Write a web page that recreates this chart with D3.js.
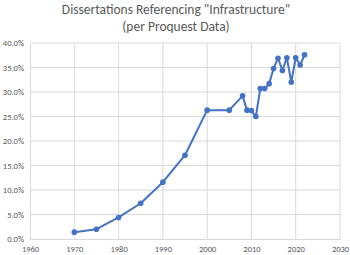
<!DOCTYPE html>
<html>
<head>
<meta charset="utf-8">
<script src="https://cdn.jsdelivr.net/npm/d3@7"></script>
<style>
  body { margin: 0; background: #fff; }
  text { font-family: Calibri, Carlito, "Liberation Sans", Arial, sans-serif; fill: #595959; }
</style>
</head>
<body>
<div id="chart"></div>
<script>
var years = [1970, 1975, 1980, 1985, 1990, 1995, 2000, 2005, 2008, 2009, 2010, 2011, 2012, 2013, 2014, 2015, 2016, 2017, 2018, 2019, 2020, 2021, 2022];
var shares = [0.014, 0.020, 0.044, 0.073, 0.116, 0.171, 0.263, 0.263, 0.292, 0.263, 0.262, 0.250, 0.307, 0.307, 0.317, 0.348, 0.369, 0.344, 0.370, 0.320, 0.370, 0.355, 0.376];
var xTicks = [1960, 1970, 1980, 1990, 2000, 2010, 2020, 2030];
var yTicks = [0, 0.05, 0.10, 0.15, 0.20, 0.25, 0.30, 0.35, 0.40];
var titleLines = ['Dissertations Referencing "Infrastructure"', '(per Proquest Data)'];

var dataset = years.map(function(y, i) { return { year: y, share: shares[i] }; });

var w = 350;
var h = 255;

var xScale = d3.scaleLinear().domain([1960, 2030]).range([30, 340]);
var yScale = d3.scaleLinear().domain([0, 0.40]).range([239, 43]);

var svg = d3.select("#chart")
  .append("svg")
  .attr("width", w)
  .attr("height", h);

// title
svg.append("g").selectAll("text")
  .data(titleLines)
  .enter().append("text")
  .attr("x", 176)
  .attr("y", function(d, i) { return 14 + i * 17; })
  .attr("text-anchor", "middle")
  .attr("font-size", "13.5px")
  .text(function(d) { return d; });

// gridlines
svg.append("g").selectAll("line")
  .data(yTicks.slice(1))
  .enter().append("line")
  .attr("x1", xScale(1960)).attr("x2", xScale(2030))
  .attr("y1", function(d) { return yScale(d); })
  .attr("y2", function(d) { return yScale(d); })
  .attr("stroke", "#d9d9d9").attr("stroke-width", 1);

svg.append("g").selectAll("line")
  .data(xTicks.slice(1))
  .enter().append("line")
  .attr("x1", function(d) { return xScale(d); })
  .attr("x2", function(d) { return xScale(d); })
  .attr("y1", yScale(0)).attr("y2", yScale(0.40))
  .attr("stroke", "#d9d9d9").attr("stroke-width", 1);

// axes
var xAxis = d3.axisBottom(xScale).tickValues(xTicks).tickFormat(d3.format("d")).tickSize(0).tickPadding(7);
var yAxis = d3.axisLeft(yScale).tickValues(yTicks).tickFormat(d3.format(".1%")).tickSize(0).tickPadding(6);

var gx = svg.append("g")
  .attr("transform", "translate(0," + yScale(0) + ")")
  .call(xAxis);
gx.select(".domain").attr("stroke", "#d9d9d9");

var gy = svg.append("g")
  .attr("transform", "translate(" + xScale(1960) + ",0)")
  .call(yAxis);
gy.select(".domain").attr("stroke", "#d9d9d9");

svg.selectAll(".tick text")
  .attr("font-size", "8.5px")
  .attr("fill", "#595959")
  .style("font-family", "Calibri, Carlito, 'Liberation Sans', Arial, sans-serif");

// line
var line = d3.line()
  .x(function(d) { return xScale(d.year); })
  .y(function(d) { return yScale(d.share); });

svg.append("path")
  .datum(dataset)
  .attr("d", line)
  .attr("fill", "none")
  .attr("stroke", "#4472C4")
  .attr("stroke-width", 2)
  .attr("stroke-linejoin", "round");

svg.append("g").selectAll("circle")
  .data(dataset)
  .enter().append("circle")
  .attr("cx", function(d) { return xScale(d.year); })
  .attr("cy", function(d) { return yScale(d.share); })
  .attr("r", 2.8)
  .attr("fill", "#4472C4");
</script>
</body>
</html>
